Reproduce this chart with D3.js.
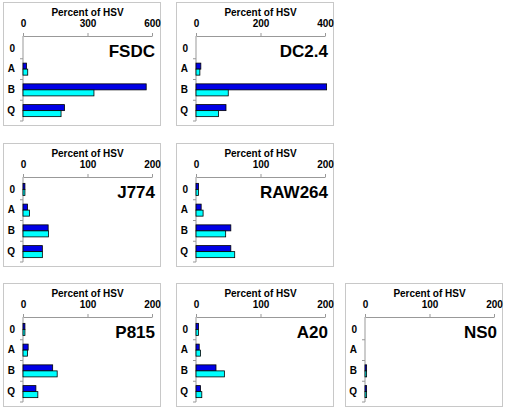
<!DOCTYPE html>
<html><head><meta charset="utf-8">
<script src="https://cdn.jsdelivr.net/npm/d3@7"></script>
<style>body{margin:0;background:#fff}svg{display:block}text{font-family:Arial,"Liberation Sans",sans-serif;font-weight:bold}</style>
</head><body>
<script>
const categories = ["0", "A", "B", "Q"];
const series = ["dark", "light"];
const panelNames = ["FSDC", "DC2.4", "J774", "RAW264", "P815", "A20", "NS0"];
const axisMax = [600, 400, 200, 200, 200, 200, 200];
const tickStep = [300, 200, 100, 100, 100, 100, 100];
// values per panel: [0, A, B, Q]
const darkValues = [
  [0, 16, 573, 193],
  [0, 15, 405, 93],
  [3, 7, 39, 30],
  [4, 8, 54, 54],
  [3, 8, 46, 20],
  [4, 5, 31, 7],
  [0, 0, 2.5, 2.5]
];
const lightValues = [
  [0, 22, 330, 177],
  [0, 12, 100, 70],
  [3, 10, 39.5, 30],
  [4, 11, 46, 60],
  [3, 7, 53, 23],
  [4, 7, 44, 9],
  [0, 0, 2.5, 2.5]
];
const colors = {dark: "#0000e6", light: "#00ffff"};

const W = 510, H = 411;
const svg = d3.select("body").append("svg").attr("width", W).attr("height", H);

const boxes = [
  {x: 3, y: 2}, {x: 176, y: 2},
  {x: 3, y: 143}, {x: 176, y: 143},
  {x: 3, y: 283}, {x: 176, y: 283}, {x: 345, y: 283}
];
const bw = 157, bh = 123;

panelNames.forEach((name, i) => {
  const b = boxes[i];
  const g = svg.append("g").attr("transform", `translate(${b.x},${b.y})`);
  g.append("rect").attr("x", 0.5).attr("y", 0.5).attr("width", bw).attr("height", bh)
    .attr("fill", "#fff").attr("stroke", "#c8c8c8");
  const left = 20, right = 149, top = 34;
  const x = d3.scaleLinear().domain([0, axisMax[i]]).range([left, right]);
  const y = d3.scaleBand().domain(categories).range([top + 2, top + 85]);
  const ys = d3.scaleBand().domain(series).range([y.bandwidth()*0.21, y.bandwidth()*0.79]);

  // top axis
  const ax = g.append("g").attr("transform", `translate(0,${top})`)
    .call(d3.axisTop(x).tickValues(d3.range(0, axisMax[i] + 1, tickStep[i])).tickSize(3).tickSizeOuter(0).tickPadding(6));
  ax.select(".domain").attr("stroke", "#999");
  ax.selectAll(".tick line").attr("stroke", "#999");
  ax.selectAll(".tick text").attr("font-size", 10).attr("fill", "#000")
    .style("font-family", "Arial, 'Liberation Sans', sans-serif").style("font-weight", "bold");

  g.append("text").attr("x", (left + right) / 2).attr("y", 14).attr("text-anchor", "middle")
    .attr("font-size", 10).text("Percent of HSV");

  // left axis
  g.append("line").attr("x1", left).attr("x2", left).attr("y1", top).attr("y2", y.range()[1])
    .attr("stroke", "#999");
  const ay = g.append("g").attr("transform", `translate(${left},0)`)
    .call(d3.axisLeft(y).tickSize(0).tickPadding(8));
  ay.select(".domain").remove();
  ay.selectAll(".tick text").attr("font-size", 10).attr("fill", "#000")
    .style("font-family", "Arial, 'Liberation Sans', sans-serif").style("font-weight", "bold");
  // boundary ticks
  const bounds = categories.slice(1).map(c => y(c)).concat([y.range()[1]]);
  g.append("g").selectAll("line").data(bounds).join("line")
    .attr("x1", left - 3).attr("x2", left).attr("y1", d => d).attr("y2", d => d)
    .attr("stroke", "#999");

  // bars
  const data = [];
  categories.forEach((c, k) => {
    data.push({c, s: "dark", v: darkValues[i][k]});
    data.push({c, s: "light", v: lightValues[i][k]});
  });
  g.append("g").selectAll("rect").data(data.filter(d => d.v > 0)).join("rect")
    .attr("x", x(0)).attr("y", d => y(d.c) + ys(d.s))
    .attr("width", d => Math.max(1, x(d.v) - x(0))).attr("height", ys.bandwidth())
    .attr("fill", d => colors[d.s]).attr("stroke", "#000").attr("stroke-width", 0.8);

  g.append("text").attr("x", 152).attr("y", 55).attr("text-anchor", "end")
    .attr("font-size", 17).text(name);
});
</script>
</body></html>
